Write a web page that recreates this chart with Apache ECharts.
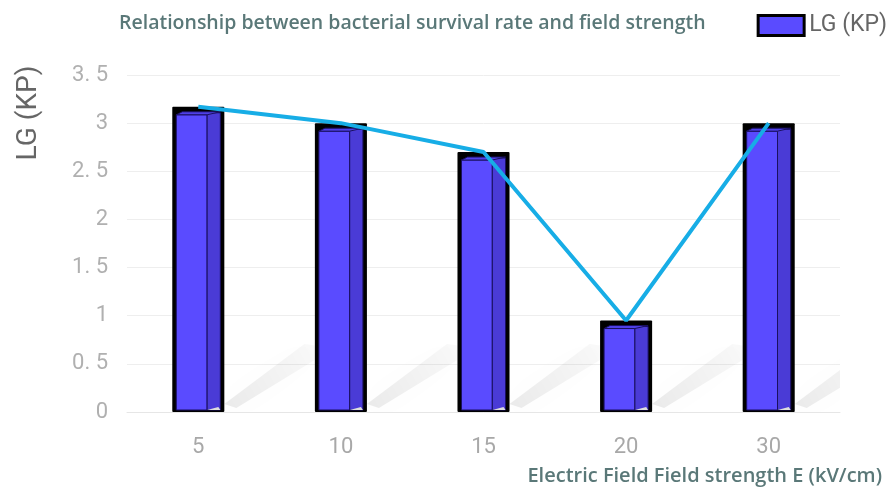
<!DOCTYPE html>
<html>
<head>
<meta charset="utf-8">
<script src="https://cdn.jsdelivr.net/npm/echarts@6/dist/echarts.min.js"></script>
<style>html,body{margin:0;padding:0;background:#fff}#c{width:896px;height:488px}</style>
</head>
<body>
<div id="c"></div>
<script>
var categories = ['5', '10', '15', '20', '30'];
var lgKp = [3.17, 3.0, 2.7, 0.95, 3.0];
var yTickLabels = ['0', '0. 5', '1', '1. 5', '2', '2. 5', '3', '3. 5'];

var chart = echarts.init(document.getElementById('c'));

function renderBar(params, api) {
  var idx = api.value(0);
  var val = api.value(1);
  var top = api.coord([idx, val]);
  var base = api.coord([idx, 0]);
  var band = api.size([1, 0])[0];
  var w = band * 0.365;
  var x = top[0] - w / 2;
  var yT = top[1];
  var yB = base[1];
  var h = yB - yT;
  var b = 4;
  var frontW = (w - 2 * b) * 0.7;
  var fx = x + b;
  var sx = fx + frontW;
  var ex = x + w - b;
  return {
    type: 'group',
    children: [
      { type: 'rect', shape: { x: x, y: yT, width: w, height: h, r: 1 }, style: { fill: '#000' } },
      { type: 'rect', shape: { x: fx, y: yT + 8, width: frontW, height: h - 10 }, style: { fill: '#5a4bff', stroke: '#1a1060', lineWidth: 1 } },
      { type: 'rect', shape: { x: sx, y: yT + 6, width: ex - sx, height: h - 8 }, style: { fill: '#4a3bd6', stroke: '#1a1060', lineWidth: 1 } },
      { type: 'polygon', shape: { points: [[fx, yT + 8], [fx + 6, yT + 5], [ex, yT + 5], [sx, yT + 8]] }, style: { fill: '#4f40e8', stroke: '#1a1060', lineWidth: 1 } },
      { type: 'polygon', shape: { points: [[sx, yB - 2], [ex, yB - 2], [ex - 2, yB - 5]] }, style: { fill: '#ddd' } }
    ]
  };
}

function renderShadow(params, api) {
  var idx = api.value(0);
  var base = api.coord([idx, 0]);
  var band = api.size([1, 0])[0];
  var w = band * 0.365;
  var x0 = base[0] + w / 2;
  var y0 = base[1] - 8;
  return {
    type: 'polygon',
    shape: { points: [[x0, y0], [x0 + 80, y0 - 60], [x0 + 110, y0 - 56], [x0 + 12, y0 + 4]] },
    style: {
      fill: new echarts.graphic.LinearGradient(0, 1, 1, 0, [
        { offset: 0, color: 'rgba(0,0,0,0.08)' },
        { offset: 1, color: 'rgba(0,0,0,0.01)' }
      ]),
      shadowBlur: 26, shadowColor: 'rgba(0,0,0,0.2)'
    }
  };
}

var barData = lgKp.map(function (v, i) { return [i, v]; });

chart.setOption({
  animation: false,
  title: {
    text: 'Relationship between bacterial survival rate and field strength',
    left: 114, top: 8,
    textStyle: { fontFamily: 'Open Sans', fontWeight: 600, fontSize: 19.5, color: '#5a7878' }
  },
  legend: {
    data: [{ name: 'LG (KP)', icon: 'rect', itemStyle: { color: '#5a4bff', borderColor: '#000', borderWidth: 3 } }],
    right: 4, top: 9,
    itemWidth: 46, itemHeight: 20, itemGap: 4,
    textStyle: { fontFamily: 'Roboto', fontSize: 23, color: '#666' }
  },
  grid: { left: 127, right: 56, top: 75, bottom: 76 },
  xAxis: {
    type: 'category',
    data: categories,
    boundaryGap: true,
    axisLine: { lineStyle: { color: '#e6e6e6', width: 1 } },
    axisTick: { show: false },
    axisLabel: { fontFamily: 'Roboto', fontSize: 22, color: '#a8a8a8', margin: 24 }
  },
  yAxis: {
    type: 'value',
    min: 0, max: 3.5, interval: 0.5,
    axisLine: { show: false },
    axisTick: { show: false },
    splitLine: { lineStyle: { color: '#eeeeee', width: 1 } },
    axisLabel: {
      fontFamily: 'Roboto', fontSize: 22, color: '#b0b0b0', margin: 19,
      formatter: function (v) { return yTickLabels[Math.round(v * 2)]; }
    }
  },
  graphic: [
    {
      type: 'text', x: 29, y: 113, rotation: Math.PI / 2,
      style: { text: 'LG (KP)', font: '28px Roboto', fill: '#666', align: 'center', verticalAlign: 'middle' }
    },
    {
      type: 'text', right: 14, top: 466,
      style: { text: 'Electric Field Field strength E (kV/cm)', font: '600 20px "Open Sans"', fill: '#5a7878' }
    }
  ],
  series: [
    { type: 'custom', name: 'shadow', renderItem: renderShadow, data: barData, silent: true, clip: true, z: 1 },
    { type: 'custom', name: 'LG (KP)', renderItem: renderBar, data: barData, itemStyle: { color: '#5a4bff' }, z: 2 },
    { type: 'line', name: 'line', data: lgKp, symbol: 'none', lineStyle: { color: '#17ade6', width: 4 }, itemStyle: { color: '#17ade6' }, z: 3 }
  ]
});
</script>
</body>
</html>
